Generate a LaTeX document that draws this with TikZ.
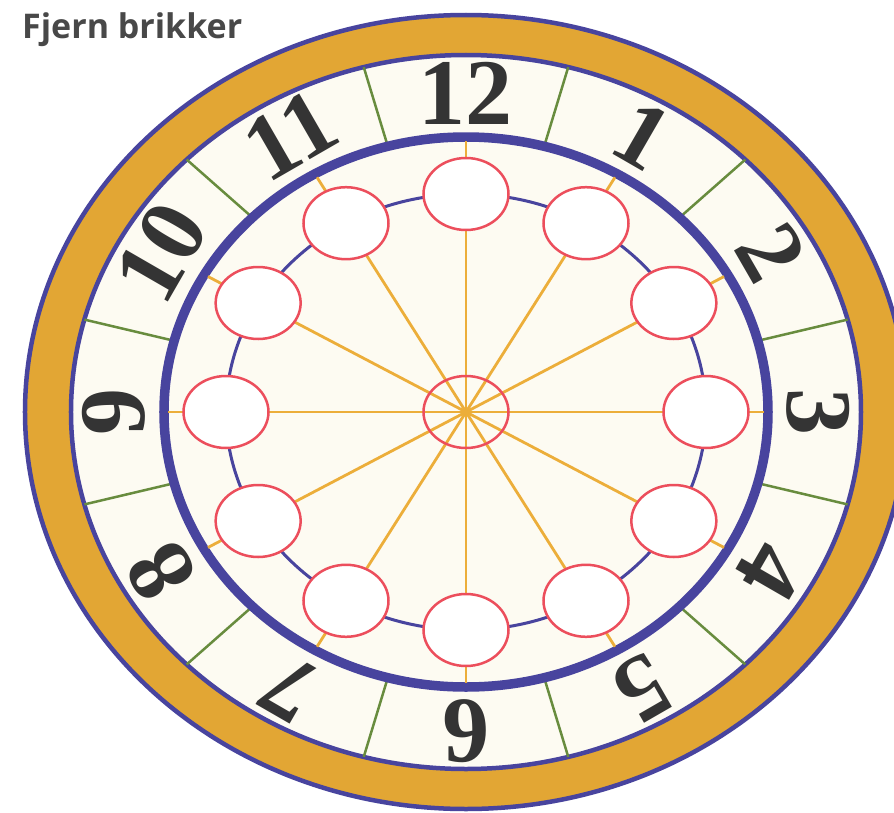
\documentclass[tikz,border=0pt]{standalone}
\usepackage{fontspec}
\setmainfont{Liberation Serif}
\newfontfamily\titlefont{Open Sans}
\definecolor{rim}{RGB}{72,68,158}
\definecolor{gold}{RGB}{226,166,52}
\definecolor{cream}{RGB}{253,251,242}
\definecolor{tick}{RGB}{104,140,62}
\definecolor{spokec}{RGB}{236,174,58}
\definecolor{chipred}{RGB}{236,78,92}
\definecolor{ink}{RGB}{52,52,52}
\usetikzlibrary{shapes.geometric}
\tikzset{
  chip/.style={ellipse,draw=chipred,line width=2.5pt,fill=white,
               minimum width=85pt,minimum height=72pt,inner sep=0pt},
  hubnode/.style={chip,fill=none},
  spoke/.style={draw=spokec,line width=2.8pt},
  divider/.style={draw=tick,line width=2.5pt},
  numeral/.style={font=\fontsize{94}{94}\selectfont\bfseries,text=ink,inner sep=0pt},
  heading/.style={font=\titlefont\fontsize{34}{34}\selectfont\bfseries,text=ink!90,
                  anchor=west,inner sep=0pt},
}

\begin{document}
\begin{tikzpicture}[x=1pt,y=1pt]
  \useasboundingbox (-466,-400) rectangle (428,412);
  \clip (-466,-400) rectangle (428,412);
  \fill[white] (-466,-400) rectangle (428,412);
  % gold rim
  \draw[rim,line width=4.5pt,fill=gold] (0,0) ellipse [x radius=441pt,y radius=397pt];
  \draw[rim,line width=4.5pt,fill=cream] (0,0) ellipse [x radius=395pt,y radius=357pt];
  % dividers between the hours
  \foreach \a in {15,45,...,345}
    \draw[divider] (\a:302pt and 275pt) -- (\a:395pt and 357pt);
  % dial
  \draw[rim,line width=9.5pt,fill=cream] (0,0) ellipse [x radius=302pt,y radius=275pt];
  \coordinate (mid) at (0,0);
  \foreach \a in {0,30,...,330} {
    \coordinate (d\a) at (\a:298pt and 271pt);
    \draw[spoke] (mid) -- (d\a);
  }
  \draw[rim,line width=3pt] (0,0) ellipse [x radius=240pt,y radius=218pt];
  % chips
  \foreach \n in {1,...,12}
    \node[chip] (chip\n) at ({90-30*\n}:240pt and 218pt) {};
  \node[hubnode] (hub) at (mid) {};
  % hour numbers
  \foreach \n in {1,...,12}
    \node[numeral,rotate={-30*\n}] (h\n) at ({90-30*\n}:352pt and 319pt) {\n};
  \node[heading] (title) at (-444,382) {Fjern brikker};
\end{tikzpicture}
\end{document}
